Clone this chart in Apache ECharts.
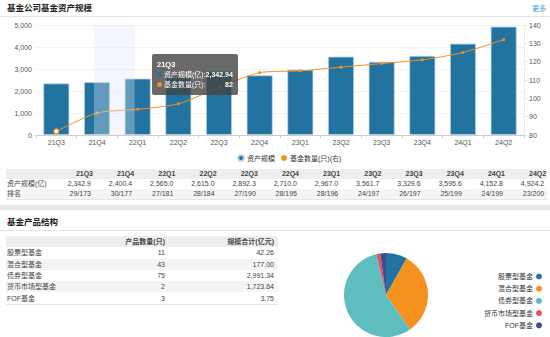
<!DOCTYPE html>
<html><head><meta charset="utf-8">
<script src="https://cdn.jsdelivr.net/npm/echarts@6/dist/echarts.min.js"></script>
<style>
html,body{margin:0;padding:0;width:550px;height:337px;overflow:hidden;background:#e8e8e8;font-family:"Liberation Sans","Noto Sans CJK SC",sans-serif;color:#333;}
.panel{position:absolute;left:0;width:550px;background:#fff;}
.title{position:absolute;left:7px;font-size:8.5px;font-weight:bold;color:#222;line-height:12px;}
.sep{position:absolute;left:0;width:550px;height:1px;background:#e3e3e3;}
.more{position:absolute;right:4px;top:3px;font-size:7px;color:#3a9fd6;}
.row{position:absolute;left:6px;font-size:7px;line-height:10px;color:#444;}
.cell{position:absolute;top:0;white-space:nowrap;}
#chart{position:absolute;left:0;top:0;width:550px;height:337px;}
</style></head>
<body>
<div class="panel" style="top:0;height:205px;"></div>
<div class="panel" style="top:210px;height:127px;"></div>
<div class="title" style="top:2px;">基金公司基金资产规模</div>
<div class="more">更多</div>
<div class="sep" style="top:16px;"></div>
<div class="title" style="top:216px;">基金产品结构</div>
<div class="sep" style="top:230px;"></div>
<div id="t1"></div>
<div id="t2"></div>
<div id="chart"></div>
<script>
// ---- data ----
const quarters = ['21Q3','21Q4','22Q1','22Q2','22Q3','22Q4','23Q1','23Q2','23Q3','23Q4','24Q1','24Q2'];
const assets = [2342.94, 2400.4, 2565.0, 2615.0, 2892.3, 2710.0, 2967.0, 3561.7, 3329.6, 3595.6, 4152.8, 4924.2];
const fundNums = [82, 92, 94, 97, 106, 114, 115, 117, 119, 121, 125, 132];
const ranks = ['29/173','30/177','27/181','28/184','27/190','28/195','28/196','24/197','26/197','25/199','24/199','23/200'];
const leftTicks = [0, 1000, 2000, 3000, 4000, 5000];
const rightTicks = [80, 90, 100, 110, 120, 130, 140];
const fundTypes = ['股票型基金','混合型基金','债券型基金','货币市场型基金','FOF基金'];
const fundCounts = [11, 43, 75, 2, 3];
const fundScales = [42.26, 177.00, 2991.34, 1723.64, 3.75];

const fmt = (v, d) => Number(v).toLocaleString('en-US', {minimumFractionDigits: d, maximumFractionDigits: d});

// ---- table 1 ----
(function(){
  const t = document.getElementById('t1');
  const rows = [
    {label:'', vals: quarters, bg:'#eeeeee', bold:true},
    {label:'资产规模(亿)', vals: assets.map(v=>fmt(v,1)), bg:'#ffffff'},
    {label:'排名', vals: ranks, bg:'#f5f5f5'}
  ];
  rows.forEach((r,i)=>{
    const d = document.createElement('div');
    d.className='row';
    d.style.top = (169 + i*10) + 'px';
    d.style.width = '541px'; d.style.height='10px';
    d.style.background = r.bg;
    if (r.bold) d.style.fontWeight='bold';
    let h = '<span class="cell" style="left:1px">'+r.label+'</span>';
    r.vals.forEach((v,j)=>{
      const right = 541 - (85 + j*41.2) - (r.bold ? 2 : 0);
      h += '<span class="cell" style="right:'+right+'px">'+v+'</span>';
    });
    d.innerHTML = h;
    t.appendChild(d);
  });
  const b = document.createElement('div');
  b.style.cssText='position:absolute;left:6px;top:199px;width:541px;height:1px;background:#e6e6e6;';
  t.appendChild(b);
})();

// ---- table 2 ----
(function(){
  const t = document.getElementById('t2');
  const rows = [{a:'', b:'产品数量(只)', c:'规模合计(亿元)', bg:'#eeeeee', bold:true}];
  fundTypes.forEach((n,i)=>rows.push({a:n, b:String(fundCounts[i]), c:fmt(fundScales[i],2), bg: i%2 ? '#f4f4f4' : '#ffffff'}));
  rows.forEach((r,i)=>{
    const d = document.createElement('div');
    d.className='row';
    d.style.top = (236 + i*11.3) + 'px';
    d.style.width='272px'; d.style.height='11px'; d.style.lineHeight='11px';
    d.style.background=r.bg;
    if (r.bold) d.style.fontWeight='bold';
    d.innerHTML = '<span class="cell" style="left:1px">'+r.a+'</span>'+
      '<span class="cell" style="right:'+(272-159)+'px">'+r.b+'</span>'+
      '<span class="cell" style="right:4px">'+r.c+'</span>';
    t.appendChild(d);
  });
  const b = document.createElement('div');
  b.style.cssText='position:absolute;left:6px;top:304px;width:272px;height:1px;background:#e6e6e6;';
  t.appendChild(b);
})();

// ---- chart ----
const BLUE = '#22739f', ORANGE = '#f5911e';
const chart = echarts.init(document.getElementById('chart'), null, {renderer:'svg'});
const font = '"Liberation Sans","Noto Sans CJK SC",sans-serif';
chart.setOption({
  animation:false,
  textStyle:{fontFamily:font},
  color:[BLUE, ORANGE, '#5ebdbf', '#e5545c', '#3f4c8f'],
  tooltip:{
    trigger:'item', triggerOn:'none', alwaysShowContent:true,
    position:[152,54],
    backgroundColor:'rgba(68,68,68,0.8)', borderWidth:0, padding:[5,5,5,5],
    extraCssText:'border-radius:2px;box-shadow:none;white-space:nowrap;',
    textStyle:{color:'#fff', fontSize:7, fontFamily:font},
    formatter:function(p){
      const i = p.dataIndex;
      const dot = c => '<span style="display:inline-block;width:5px;height:5px;border-radius:3px;background:'+c+';margin-right:2px;vertical-align:0px;"></span>';
      return '<div style="font-weight:bold;font-size:7.5px;line-height:11px;">'+quarters[i]+'</div>'+
        '<div style="line-height:10px;">'+dot(BLUE)+'资产规模(亿):<b>'+fmt(assets[i],2)+'</b></div>'+
        '<div style="line-height:10px;">'+dot(ORANGE)+'基金数量(只):<b style="float:right">'+fundNums[i]+'</b></div>';
    }
  },
  legend:[{
    data:['资产规模','基金数量(只)(右)'], left:232, top:149,
    icon:'circle', itemWidth:6, itemHeight:6, itemGap:6,
    textStyle:{fontSize:7, color:'#333', padding:[0,0,0,-2]}
  },{
    data:fundTypes, orient:'vertical', right:3, top:268, align:'right',
    icon:'circle', itemWidth:6, itemHeight:6, itemGap:5.2,
    textStyle:{fontSize:7, color:'#333', padding:[0,-2,0,0]}
  }],
  grid:{left:36, right:26, top:25, height:110},
  xAxis:{
    type:'category', data:quarters,
    axisLine:{lineStyle:{color:'#cccccc'}},
    axisTick:{show:true, lineStyle:{color:'#cccccc'}, length:3},
    axisLabel:{fontSize:7, color:'#555', margin:4}
  },
  yAxis:[{
    type:'value', min:leftTicks[0], max:leftTicks[leftTicks.length-1], interval:leftTicks[1]-leftTicks[0],
    axisLine:{show:false}, axisTick:{show:false},
    splitLine:{lineStyle:{color:'#f2f2f2'}},
    axisLabel:{fontSize:7, color:'#555', margin:4, formatter:v=>fmt(v,0)}
  },{
    type:'value', min:rightTicks[0], max:rightTicks[rightTicks.length-1], interval:rightTicks[1]-rightTicks[0],
    axisLine:{show:true, lineStyle:{color:'#ececec'}},
    axisTick:{show:true, length:3, lineStyle:{color:'#e0e0e0'}},
    splitLine:{show:false},
    axisLabel:{fontSize:7, color:'#555', margin:5}
  }],
  series:[{
    name:'资产规模', type:'bar', data:assets, barWidth:'64%',
    itemStyle:{color:BLUE, borderColor:'#bcd6e6', borderWidth:0.8}
  },{
    name:'基金数量(只)(右)', type:'line', yAxisIndex:1, smooth:0.25,
    data:fundNums.map((v,i)=> i===0 ? {value:v, symbolSize:5, itemStyle:{color:'#fff', borderColor:ORANGE, borderWidth:1.2}} : v),
    symbol:'circle', symbolSize:3, lineStyle:{width:1, color:ORANGE}, itemStyle:{color:ORANGE}
  },{
    name:'基金产品结构', type:'pie', center:[386,295], radius:42, startAngle:90, clockwise:true,
    label:{show:false}, labelLine:{show:false},
    itemStyle:{borderWidth:0},
    data:fundTypes.map((n,i)=>({name:n, value:fundCounts[i]}))
  }]
});
// hover shadow band (stale axis pointer) placed via axis scale
const x1 = chart.convertToPixel({xAxisIndex:0}, quarters[1]) - 3;
const x2 = chart.convertToPixel({xAxisIndex:0}, quarters[2]) - 3;
const yTop = chart.convertToPixel({yAxisIndex:0}, leftTicks[leftTicks.length-1]);
const yBot = chart.convertToPixel({yAxisIndex:0}, leftTicks[0]);
chart.setOption({graphic:[{type:'rect', z:100, silent:true,
  shape:{x:x1, y:yTop, width:x2-x1, height:yBot-yTop},
  style:{fill:'rgba(222,230,248,0.35)'}}]});
chart.dispatchAction({type:'showTip', seriesIndex:0, dataIndex:0});
</script>
</body></html>
